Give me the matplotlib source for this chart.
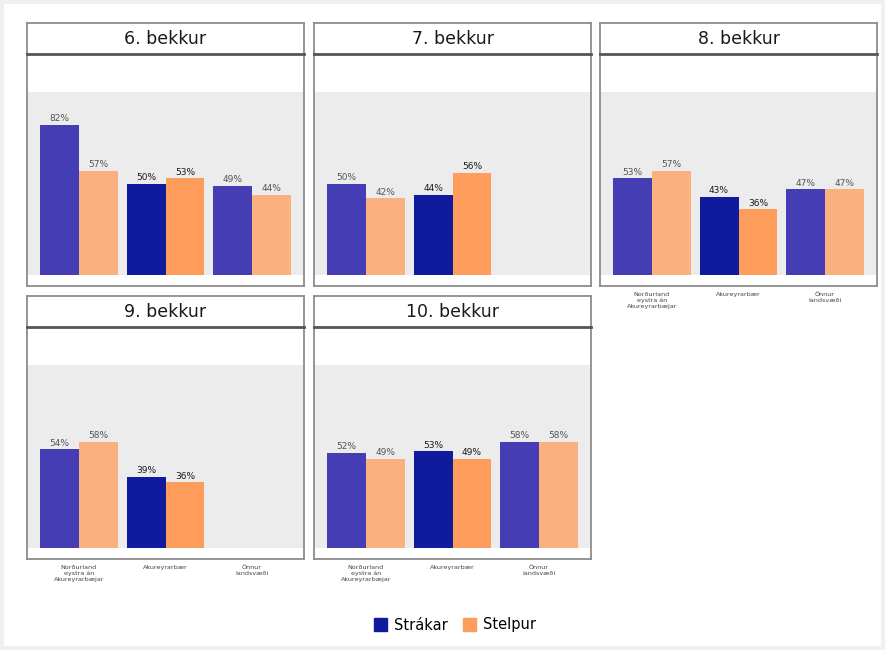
import matplotlib
matplotlib.use("Agg")
import matplotlib.pyplot as plt
import matplotlib.patches as mpatches
import numpy as np

# ---- data ----
grades = ["6. bekkur", "7. bekkur", "8. bekkur", "9. bekkur", "10. bekkur"]
regions = ["Norðurland\neystra án\nAkureyrarbæjar", "Akureyrarbær", "Önnur\nlandsvæði"]
series = ["Strákar", "Stelpur"]
strakar = [[0.82, 0.50, 0.49],
           [0.50, 0.44, np.nan],
           [0.53, 0.43, 0.47],
           [0.54, 0.39, np.nan],
           [0.52, 0.53, 0.58]]
stelpur = [[0.57, 0.53, 0.44],
           [0.42, 0.56, np.nan],
           [0.57, 0.36, 0.47],
           [0.58, 0.36, np.nan],
           [0.49, 0.49, 0.58]]
highlight = "Akureyrarbær"

# colours
col_full = {"Strákar": "#0f1a9c", "Stelpur": "#fd9c5b"}
col_light = {"Strákar": "#443db3", "Stelpur": "#fbb080"}

W, H = 885, 650
fig = plt.figure(figsize=(W / 100, H / 100), dpi=100)
fig.patch.set_facecolor("#f0f0f0")
fig.add_artist(mpatches.Rectangle((4 / W, 1 - 646 / H), 877 / W, 642 / H,
                                  transform=fig.transFigure, facecolor="white",
                                  edgecolor="none", zorder=0))

def px(x0, y0, w, h):
    return [x0 / W, 1 - (y0 + h) / H, w / W, h / H]

col_x = [27, 314, 600]
col_w = 277
row_y = [23, 296]
strip_h = 31
axes_h = 232
layout = [(0, 0), (0, 1), (0, 2), (1, 0), (1, 1)]
show_xlabels = [False, False, True, True, True]

ymin, ymax = -0.0575, 1.2075
xs = np.arange(1, len(regions) + 1)
bw = 0.45

for gi, g in enumerate(grades):
    r, c = layout[gi]
    x0 = col_x[c]
    y0 = row_y[r]
    # strip
    sax = fig.add_axes(px(x0, y0, col_w, strip_h))
    sax.set_xticks([]); sax.set_yticks([])
    sax.set_facecolor("white")
    for s in sax.spines.values():
        s.set_color("#8c8c8c"); s.set_linewidth(1.3)
    sax.spines["bottom"].set_visible(False)
    sax.text(0.5, 0.48, g, ha="center", va="center", fontsize=12.5,
             color="#1a1a1a", transform=sax.transAxes)
    # panel
    ax = fig.add_axes(px(x0, y0 + strip_h, col_w, axes_h))
    ax.set_facecolor("white")
    ax.set_xlim(0.4, len(regions) + 0.6)
    ax.set_ylim(ymin, ymax)
    ax.axhspan(0, 1.0, facecolor="#ececec", edgecolor="none", zorder=0)
    for s in ax.spines.values():
        s.set_color("#8c8c8c"); s.set_linewidth(1.3)
    ax.spines["top"].set_color("#555555")
    ax.spines["top"].set_linewidth(2.0)
    ax.set_yticks([])
    ax.tick_params(axis="x", length=0, pad=4)
    if show_xlabels[gi]:
        ax.set_xticks(xs)
        ax.set_xticklabels(regions, fontsize=4.6, color="#444444", linespacing=1.25)
    else:
        ax.set_xticks([])
    for si, (sname, vals) in enumerate(zip(series, [strakar[gi], stelpur[gi]])):
        offs = -bw / 2 if si == 0 else bw / 2
        for ri, v in enumerate(vals):
            if np.isnan(v):
                continue
            hl = regions[ri] == highlight
            color = col_full[sname] if hl else col_light[sname]
            ax.bar(xs[ri] + offs, v, width=bw, color=color, edgecolor="none", zorder=2)
            ax.annotate(f"{round(v * 100):.0f}%", (xs[ri] + offs, v),
                        xytext=(0, 1.2), textcoords="offset points",
                        ha="center", va="bottom", fontsize=6.5,
                        color="#1a1a1a" if hl else "#555555", zorder=3)

handles = [mpatches.Patch(color=col_full[s], label=s) for s in series]
fig.legend(handles=handles, loc="center", bbox_to_anchor=(455 / W, 1 - 625 / H),
           ncol=2, frameon=False, fontsize=10.5, handlelength=0.9, handleheight=0.9,
           columnspacing=1.0, handletextpad=0.5)

fig.savefig("out.png", dpi=100, facecolor=fig.get_facecolor())
